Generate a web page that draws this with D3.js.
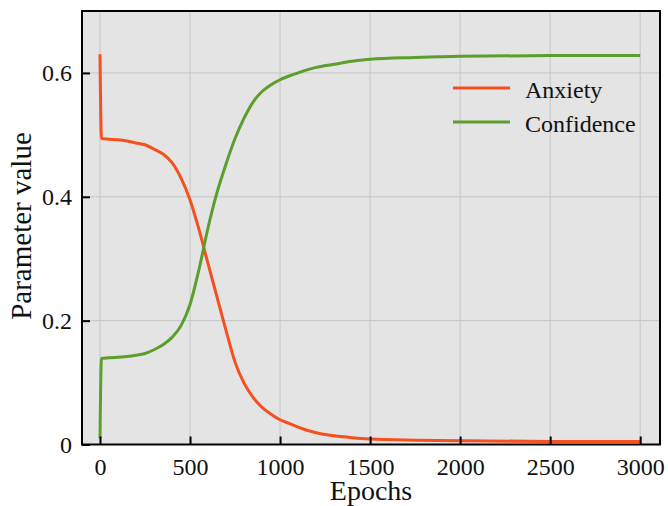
<!DOCTYPE html>
<html>
<head>
<meta charset="utf-8">
<script src="https://cdn.jsdelivr.net/npm/d3@7"></script>
<style>
  html, body { margin: 0; padding: 0; background: #ffffff; }
  svg { display: block; }
  text { font-family: "Liberation Serif", "Times New Roman", serif; fill: #111; }
</style>
</head>
<body>
<svg id="chart" width="668" height="506"></svg>
<script>
const epochs = [0, 8, 50, 100, 150, 200, 250, 300, 350, 400, 450, 500, 550, 600, 650, 700, 750, 800, 850, 900, 950, 1000, 1050, 1100, 1150, 1200, 1300, 1400, 1500, 1750, 2000, 2500, 3000];
const anxiety = [0.630, 0.494, 0.493, 0.492, 0.490, 0.487, 0.484, 0.477, 0.469, 0.455, 0.430, 0.395, 0.347, 0.292, 0.238, 0.184, 0.133, 0.099, 0.076, 0.060, 0.049, 0.040, 0.034, 0.028, 0.023, 0.019, 0.014, 0.011, 0.009, 0.007, 0.006, 0.005, 0.005];
const confidence = [0.010, 0.139, 0.140, 0.141, 0.142, 0.144, 0.147, 0.153, 0.161, 0.173, 0.192, 0.226, 0.283, 0.350, 0.407, 0.453, 0.494, 0.527, 0.553, 0.570, 0.581, 0.589, 0.595, 0.600, 0.605, 0.609, 0.614, 0.619, 0.622, 0.625, 0.627, 0.628, 0.628];
const seriesNames = ["Anxiety", "Confidence"];
const xTicks = [0, 500, 1000, 1500, 2000, 2500, 3000];
const yTicks = [0, 0.2, 0.4, 0.6];
const xLabel = "Epochs";
const yLabel = "Parameter value";

const colors = ["#f4511e", "#5b9e2b"];

const pLeft = 82, pRight = 660, pTop = 11, pBottom = 444.5;
const svg = d3.select("#chart");

const x = d3.scaleLinear().domain([-100, 3110]).range([pLeft, pRight]);
const y = d3.scaleLinear().domain([0, 0.7]).range([pBottom, pTop]);

// background
svg.append("rect").attr("x", pLeft).attr("y", pTop)
  .attr("width", pRight - pLeft).attr("height", pBottom - pTop)
  .attr("fill", "#e4e4e4");

// grid
const grid = svg.append("g");
grid.selectAll(".gx").data(xTicks).enter().append("line")
  .attr("x1", d => x(d)).attr("x2", d => x(d))
  .attr("y1", pTop).attr("y2", pBottom)
  .attr("stroke", "#c6c6c6").attr("stroke-width", 1);
grid.selectAll(".gy").data(yTicks).enter().append("line")
  .attr("x1", pLeft).attr("x2", pRight)
  .attr("y1", d => y(d)).attr("y2", d => y(d))
  .attr("stroke", "#c6c6c6").attr("stroke-width", 1);

// lines
const series = [anxiety, confidence];
const line = d3.line().curve(d3.curveMonotoneX);
series.forEach((vals, i) => {
  const pts = epochs.map((e, j) => [x(e), y(vals[j])]);
  svg.append("path").attr("d", line(pts))
    .attr("fill", "none").attr("stroke", colors[i])
    .attr("stroke-width", 3).attr("stroke-linejoin", "round");
});

// axes
const fmt = d => d === 0 ? "0" : d3.format(".1f")(d);
const xAxis = svg.append("g").attr("transform", `translate(0,${pBottom})`)
  .call(d3.axisBottom(x).tickValues(xTicks).tickSize(-8).tickPadding(13).tickFormat(d3.format("d")));
const yAxis = svg.append("g").attr("transform", `translate(${pLeft},0)`)
  .call(d3.axisLeft(y).tickValues(yTicks).tickSize(-8).tickPadding(10).tickFormat(fmt));
[xAxis, yAxis].forEach(a => {
  a.select(".domain").remove();
  a.selectAll(".tick line").attr("stroke", "#000").attr("stroke-width", 2);
  a.selectAll(".tick text").attr("font-size", 24)
    .attr("font-family", "Liberation Serif, serif").attr("fill", "#111");
});

// frame
svg.append("rect").attr("x", pLeft).attr("y", pTop)
  .attr("width", pRight - pLeft).attr("height", pBottom - pTop)
  .attr("fill", "none").attr("stroke", "#000").attr("stroke-width", 2);

// axis labels
svg.append("text").attr("x", (pLeft + pRight) / 2).attr("y", 500)
  .attr("text-anchor", "middle").attr("font-size", 28).text(xLabel);
svg.append("text").attr("transform", "translate(31,226) rotate(-90)")
  .attr("text-anchor", "middle").attr("font-size", 29).text(yLabel);

// legend
const legend = svg.append("g");
seriesNames.forEach((name, i) => {
  const ly = 88 + i * 34;
  legend.append("line").attr("x1", 453).attr("x2", 510).attr("y1", ly).attr("y2", ly)
    .attr("stroke", colors[i]).attr("stroke-width", 3);
  legend.append("text").attr("x", 525).attr("y", ly + 9.5)
    .attr("font-size", 24).text(name);
});
</script>
</body>
</html>
